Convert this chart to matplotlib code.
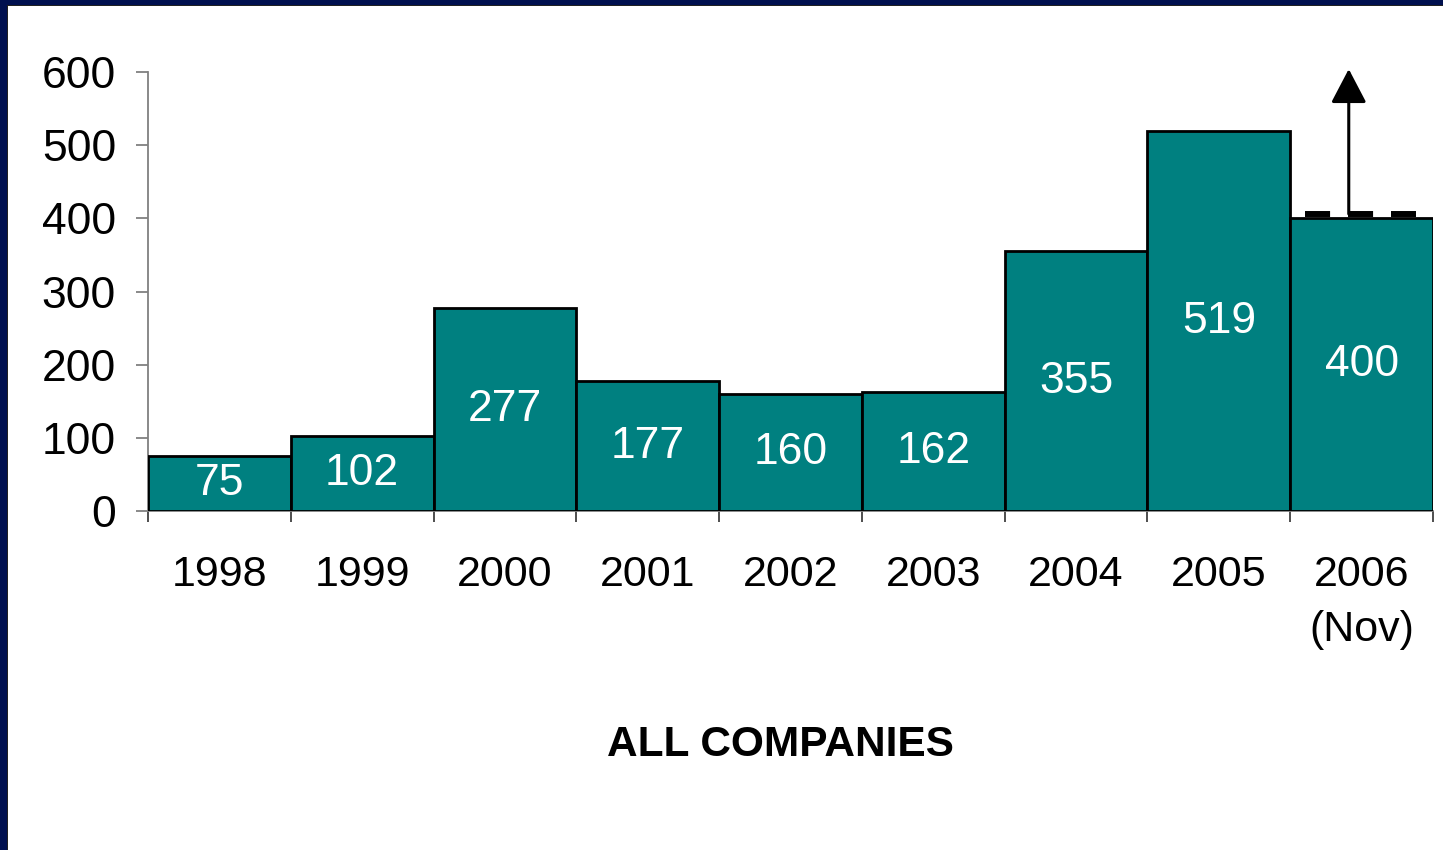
import matplotlib
matplotlib.use("Agg")
import matplotlib.pyplot as plt
from matplotlib.patches import Rectangle
import numpy as np

plt.rcParams['font.family'] = ['Liberation Sans', 'DejaVu Sans']

years = ["1998", "1999", "2000", "2001", "2002", "2003", "2004", "2005", "2006\n(Nov)"]
counts = [75, 102, 277, 177, 160, 162, 355, 519, 400]
y_ticks = [0, 100, 200, 300, 400, 500, 600]
title = "ALL COMPANIES"

teal = "#008080"
navy = "#00104F"

fig = plt.figure(figsize=(14.43, 8.5), dpi=100)
fig.patch.set_facecolor("white")

# navy frame along the top and left edges
W, H = 1443, 850
fig.add_artist(Rectangle((0, 1 - 5 / H), 1, 5 / H, transform=fig.transFigure,
                         facecolor=navy, edgecolor="none", zorder=10))
fig.add_artist(Rectangle((0, 0), 7 / W, 1, transform=fig.transFigure,
                         facecolor=navy, edgecolor="none", zorder=10))
fig.add_artist(Rectangle((7 / W, 0), 1.2 / W, 1 - 5 / H, transform=fig.transFigure,
                         facecolor="#222222", edgecolor="none", zorder=10))
fig.add_artist(Rectangle((7 / W, 1 - 6.2 / H), 1, 1.2 / H, transform=fig.transFigure,
                         facecolor="#222222", edgecolor="none", zorder=10))

ax = fig.add_axes([148 / W, 1 - 511 / H, (1433 - 148) / W, (511 - 72) / H])
n = len(counts)
x = np.arange(n)
ax.bar(x + 0.5, counts, width=1.0, color=teal, edgecolor="black", linewidth=2.0, zorder=3)

for xi, v in zip(x, counts):
    ax.text(xi + 0.5, v / 2, str(v), ha="center", va="center", color="white",
            fontsize=32, zorder=4)

ax.set_xlim(0, n)
ax.set_ylim(0, 600)
ax.set_yticks(y_ticks)
ax.set_yticklabels([str(t) for t in y_ticks])
ax.set_xticks(np.arange(n + 1))
ax.set_xticklabels([])
ax.set_xticks(x + 0.5, minor=True)
ax.set_xticklabels(years, minor=True, linespacing=1.5)

for s in ("top", "right"):
    ax.spines[s].set_visible(False)
for s in ("left", "bottom"):
    ax.spines[s].set_color("#808080")
    ax.spines[s].set_linewidth(1.3)

ax.tick_params(axis="y", which="major", length=9, width=1.3, color="#808080",
               labelsize=32, pad=14)
ax.tick_params(axis="x", which="major", length=8, width=1.3, color="#404040")
ax.tick_params(axis="x", which="minor", length=0, labelsize=31, pad=31.5)

# rising marker on the latest year: dashed level line with an upward arrow
last = n - 1
level = counts[-1] + 6
ax.plot([last + 0.1, last + 0.88], [level, level], color="black", lw=4.3,
        dashes=(4.2, 3.0), solid_capstyle="butt", dash_capstyle="butt",
        zorder=5, clip_on=False)
ax.annotate("", xy=(last + 0.41, 604), xytext=(last + 0.41, level),
            arrowprops=dict(arrowstyle="-|>,head_length=2.1,head_width=1.1",
                            color="black", lw=2.2, shrinkA=0, shrinkB=0),
            annotation_clip=False, zorder=5)

fig.text(780 / W, 1 - 745 / H, title, ha="center", va="center",
         fontsize=30.5, fontweight="bold")

fig.savefig("out.png", dpi=100, facecolor=fig.get_facecolor())
